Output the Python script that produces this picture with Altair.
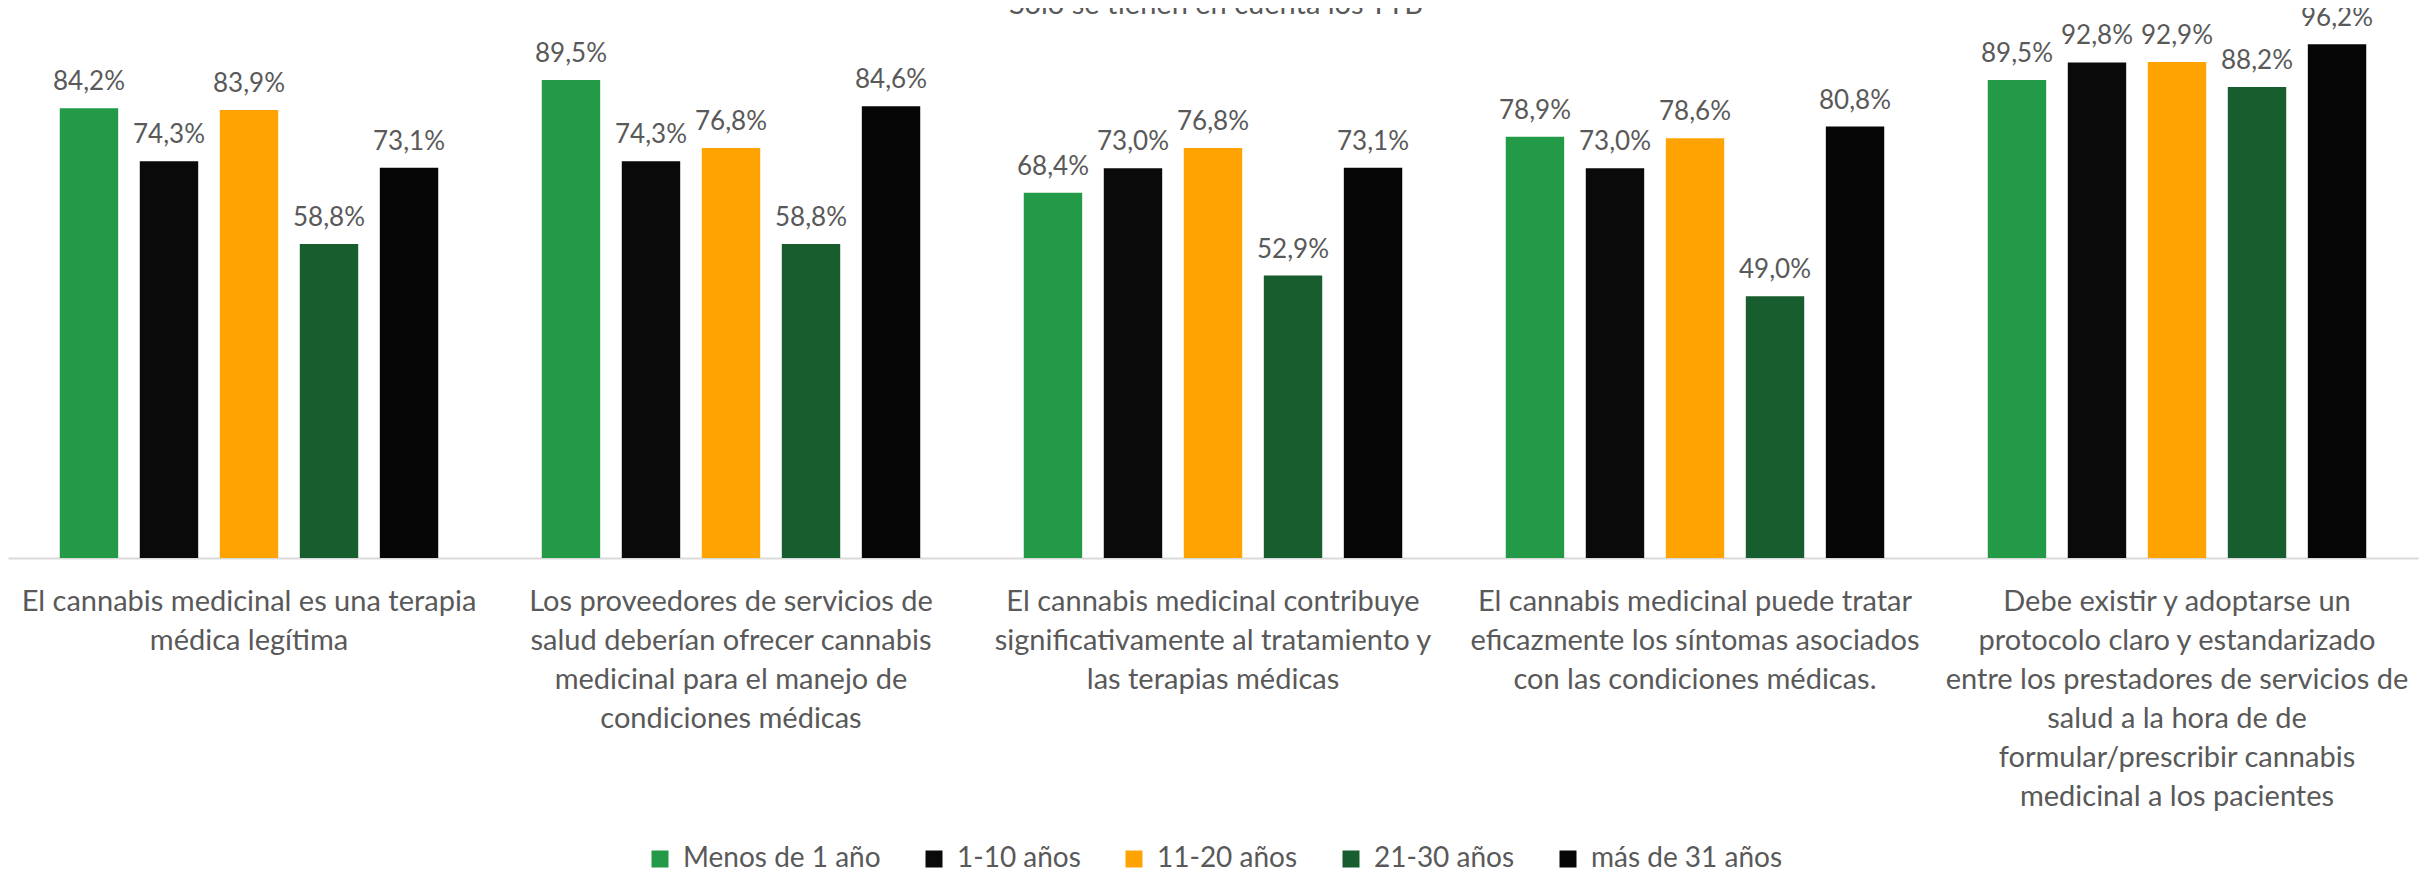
import altair as alt
import pandas as pd

categories = [
    ["El cannabis medicinal es una terapia", "médica legítima"],
    ["Los proveedores de servicios de", "salud deberían ofrecer cannabis",
     "medicinal para el manejo de", "condiciones médicas"],
    ["El cannabis medicinal contribuye", "significativamente al tratamiento y",
     "las terapias médicas"],
    ["El cannabis medicinal puede tratar", "eficazmente los síntomas asociados",
     "con las condiciones médicas."],
    ["Debe existir y adoptarse un", "protocolo claro y estandarizado",
     "entre los prestadores de servicios de", "salud a la hora de de",
     "formular/prescribir cannabis", "medicinal a los pacientes"],
]
groups = ["Menos de 1 año", "1-10 años", "11-20 años", "21-30 años", "más de 31 años"]
colors = ["#229A48", "#0A0A0A", "#FFA302", "#175D2E", "#060606"]

menos_1 = [84.2, 89.5, 68.4, 78.9, 89.5]
a1_10 = [74.3, 74.3, 73.0, 73.0, 92.8]
a11_20 = [83.9, 76.8, 76.8, 78.6, 92.9]
a21_30 = [58.8, 58.8, 52.9, 49.0, 88.2]
mas_31 = [73.1, 84.6, 73.1, 80.8, 96.2]
series = [menos_1, a1_10, a11_20, a21_30, mas_31]

title_text = "Solo se tienen en cuenta los TTB"

cat_keys = ["|".join(c) for c in categories]
rows = []
for gi, g in enumerate(groups):
    for ci, ck in enumerate(cat_keys):
        rows.append({"cat": ck, "grp": g, "v": series[gi][ci]})
df = pd.DataFrame(rows)

FONT = "Lato"
GRAY = "#595959"

base = alt.Chart(df).encode(
    x=alt.X("cat:N", sort=cat_keys,
            scale=alt.Scale(paddingInner=0, paddingOuter=0),
            axis=alt.Axis(title=None, ticks=False, domainColor="#D9D9D9", domainWidth=2,
                          labelExpr="split(datum.label, '|')", labelAngle=0,
                          labelFont=FONT, labelFontSize=29, labelColor=GRAY,
                          labelLineHeight=39, labelPadding=29, labelLimit=0)),
    xOffset=alt.XOffset("grp:N", sort=groups,
                        scale=alt.Scale(paddingInner=0.27, paddingOuter=0.647)),
    y=alt.Y("v:Q", scale=alt.Scale(domain=[0, 100]), axis=None),
)

bars = base.mark_bar().encode(
    color=alt.Color("grp:N", sort=groups,
                    scale=alt.Scale(domain=groups, range=colors),
                    legend=alt.Legend(title=None, orient="none", direction="horizontal",
                                      legendX=638, legendY=821,
                                      symbolType="square", symbolSize=289,
                                      symbolStrokeWidth=0, labelFont=FONT,
                                      labelFontSize=28, labelColor=GRAY,
                                      labelOffset=9, columnPadding=39,
                                      labelLimit=0, columns=5))
)

labels = base.mark_text(baseline="alphabetic", dy=-18, font=FONT, fontSize=26,
                        color=GRAY).transform_calculate(
    lbl="replace(format(datum.v, '.1f'), '.', ',') + '%'"
).encode(text="lbl:N")

title = alt.Chart(pd.DataFrame({"t": [title_text]})).mark_text(
    font=FONT, fontSize=29, color=GRAY, baseline="alphabetic", align="center"
).encode(text="t:N", x=alt.value(1208), y=alt.value(-10))

chart = alt.layer(bars, labels, title).properties(
    width=2410, height=534,
    autosize=alt.AutoSizeParams(type="none"),
    padding={"left": 0, "top": 16, "right": 1, "bottom": 316},
).configure_view(stroke=None)

chart.save("out.html", embed_options={"renderer": "svg", "actions": False})
